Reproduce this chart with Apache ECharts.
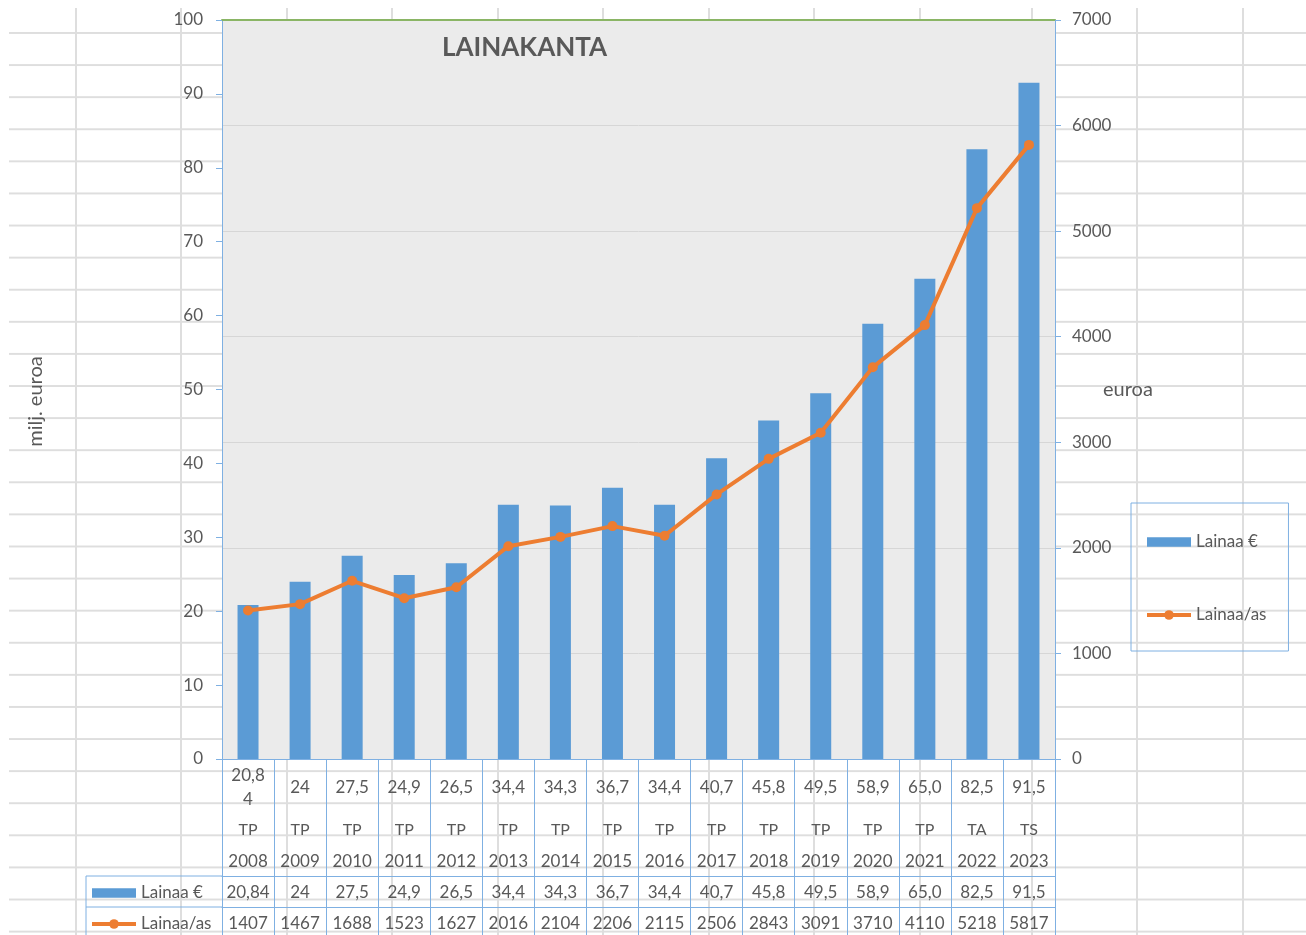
<!DOCTYPE html>
<html>
<head>
<meta charset="utf-8">
<title>Lainakanta</title>
<script src="https://cdn.jsdelivr.net/npm/echarts@6/dist/echarts.min.js"></script>
<style>
    html, body { margin: 0; padding: 0; background: #fff; }
    /* taulukkolaskentaohjelman ruudukko taustalla */
    #sheet {
        position: absolute; left: 9px; top: 8px; width: 1297px; height: 927px;
        background-image: linear-gradient(to bottom, #dedede 0, #dedede 2px, transparent 2px);
        background-size: 100% 32.1px;
        background-position: 0 24px;
    }
    .col { position: absolute; top: 8px; width: 2px; height: 927px; background: #dedede; }
    #chart { position: absolute; left: 0; top: 0; width: 1306px; height: 935px; }
</style>
</head>
<body>
<div id="sheet"></div>
<div id="chart"></div>
<script>
    // vuodet, tilinpäätös/talousarvio/suunnitelma ja arvot
    const years = ['2008', '2009', '2010', '2011', '2012', '2013', '2014', '2015',
        '2016', '2017', '2018', '2019', '2020', '2021', '2022', '2023']
    const phases = ['TP', 'TP', 'TP', 'TP', 'TP', 'TP', 'TP', 'TP',
        'TP', 'TP', 'TP', 'TP', 'TP', 'TP', 'TA', 'TS']
    const lainaa = [20.84, 24, 27.5, 24.9, 26.5, 34.4, 34.3, 36.7,
        34.4, 40.7, 45.8, 49.5, 58.9, 65.0, 82.5, 91.5]
    const lainaaLabels = ['20,84', '24', '27,5', '24,9', '26,5', '34,4', '34,3', '36,7',
        '34,4', '40,7', '45,8', '49,5', '58,9', '65,0', '82,5', '91,5']
    const lainaaPerAs = [1407, 1467, 1688, 1523, 1627, 2016, 2104, 2206,
        2115, 2506, 2843, 3091, 3710, 4110, 5218, 5817]

    const leftAxis = { min: 0, max: 100, interval: 10 }
    const rightAxis = { min: 0, max: 7000, interval: 1000 }

    // ruudukon sarakeviivat
    const colX = [76, 181, 287, 392, 498, 603, 709, 814, 920, 1032, 1137, 1243]
    colX.forEach(x => {
        let d = document.createElement('div')
        d.className = 'col'
        d.style.left = (x - 1) + 'px'
        document.body.insertBefore(d, document.getElementById('chart'))
    })

    const font = 'Lato'
    const textColor = '#595959'
    const blueLine = '#7fb0e2'
    const fs = 17
    // pylvään selitekuvake 42x9 laatikossa
    const barIcon = 'path://M0,0H42V9H0Z'

    // kaavion mitat
    const gLeft = 222, gRight = 1055, gTop = 20, gBottom = 759, H = 935
    const row1 = 876, row2 = 907

    function catLabel(v, i) {
        let s = lainaaLabels[i]
        let first = s.length > 4
            ? '{a1|' + s.slice(0, 4) + '}\n{a2|' + s.slice(4) + '}'
            : '{a|' + s + '}'
        return first + '\n{b|' + phases[i] + '}\n{c|' + years[i] + '}'
    }

    let myChart = echarts.init(document.getElementById('chart'))

    let legendData = [{ name: 'Lainaa €', icon: barIcon }, { name: 'Lainaa/as' }]

    let option = {
        animation: false,
        textStyle: { fontFamily: font, color: textColor },
        title: {
            text: 'LAINAKANTA',
            left: 437,
            top: 30,
            textStyle: { fontFamily: font, fontSize: 26, fontWeight: 'bold', color: textColor }
        },
        legend: [{
            data: legendData,
            orient: 'vertical',
            left: 1131,
            top: 503,
            padding: [29, 22, 26, 14],
            itemGap: 53,
            itemWidth: 44,
            itemHeight: 12,
            borderColor: blueLine,
            borderWidth: 1,
            selectedMode: false,
            lineStyle: { width: 4 },
            textStyle: { fontFamily: font, fontSize: fs, color: textColor, lineHeight: 20 }
        }, {
            data: legendData,
            orient: 'vertical',
            left: 90,
            top: 883,
            padding: 0,
            itemGap: 11,
            itemWidth: 44,
            itemHeight: 12,
            selectedMode: false,
            lineStyle: { width: 4 },
            textStyle: { fontFamily: font, fontSize: fs, color: textColor, lineHeight: 20 }
        }],
        grid: {
            left: gLeft,
            right: 1306 - gRight,
            top: gTop,
            bottom: H - gBottom,
            show: true,
            backgroundColor: '#ebebeb',
            borderWidth: 0
        },
        xAxis: [{
            type: 'category',
            data: years,
            position: 'bottom',
            axisLine: { onZero: false, lineStyle: { color: blueLine } },
            axisTick: { show: true, interval: 0, length: H - gBottom, lineStyle: { color: blueLine } },
            axisLabel: {
                interval: 0,
                margin: 5,
                formatter: catLabel,
                color: textColor,
                fontFamily: font,
                fontSize: fs,
                rich: {
                    a: { lineHeight: 48, fontSize: fs, fontFamily: font, color: textColor },
                    a1: { lineHeight: 24, fontSize: fs, fontFamily: font, color: textColor },
                    a2: { lineHeight: 24, fontSize: fs, fontFamily: font, color: textColor },
                    b: { lineHeight: 36, fontSize: 16, fontFamily: font, color: textColor },
                    c: { lineHeight: 28, fontSize: fs, fontFamily: font, color: textColor }
                }
            }
        }, {
            type: 'category',
            data: years,
            position: 'bottom',
            offset: row1 - gBottom,
            axisLine: { onZero: false, lineStyle: { color: blueLine } },
            axisTick: { show: false },
            axisLabel: {
                interval: 0, margin: 8, lineHeight: 18,
                color: textColor, fontFamily: font, fontSize: fs,
                formatter: (v, i) => lainaaLabels[i]
            }
        }, {
            type: 'category',
            data: years,
            position: 'bottom',
            offset: row2 - gBottom,
            axisLine: { onZero: false, lineStyle: { color: blueLine } },
            axisTick: { show: false },
            axisLabel: {
                interval: 0, margin: 8, lineHeight: 18,
                color: textColor, fontFamily: font, fontSize: fs,
                formatter: (v, i) => String(lainaaPerAs[i])
            }
        }, {
            type: 'category',
            data: years,
            position: 'top',
            axisLine: { onZero: false, lineStyle: { color: '#8ab565', width: 2 } },
            axisTick: { show: false },
            axisLabel: { show: false }
        }],
        yAxis: [{
            type: 'value',
            min: leftAxis.min,
            max: leftAxis.max,
            interval: leftAxis.interval,
            position: 'left',
            name: 'milj. euroa',
            nameLocation: 'middle',
            nameRotate: 90,
            nameGap: 176,
            nameMoveOverlap: false,
            nameTextStyle: { fontFamily: font, fontSize: 20, color: textColor, padding: [0, 24, 0, 0] },
            axisLine: { show: true, lineStyle: { color: blueLine } },
            axisTick: { show: true, length: 6, lineStyle: { color: blueLine } },
            axisLabel: { margin: 19, color: textColor, fontFamily: font, fontSize: fs },
            splitLine: { show: false }
        }, {
            type: 'value',
            min: rightAxis.min,
            max: rightAxis.max,
            interval: rightAxis.interval,
            position: 'right',
            name: 'euroa',
            nameLocation: 'middle',
            nameRotate: 0,
            nameGap: 48,
            nameMoveOverlap: false,
            nameTextStyle: { fontFamily: font, fontSize: 20, color: textColor, padding: [0, 0, 7, 0] },
            axisLine: { show: true, lineStyle: { color: blueLine } },
            axisTick: { show: true, length: 6, lineStyle: { color: blueLine } },
            axisLabel: {
                margin: 17, color: textColor, fontFamily: font, fontSize: fs,
                formatter: v => String(v)
            },
            splitLine: { show: true, lineStyle: { color: '#d6d6d6' } }
        }],
        graphic: [
            // taulukon selitesarakkeen reunat
            { type: 'line', shape: { x1: 86, y1: row1, x2: gLeft, y2: row1 }, style: { stroke: blueLine, lineWidth: 1 } },
            { type: 'line', shape: { x1: 86, y1: row2, x2: gLeft, y2: row2 }, style: { stroke: blueLine, lineWidth: 1 } },
            { type: 'line', shape: { x1: 86, y1: row1, x2: 86, y2: H }, style: { stroke: blueLine, lineWidth: 1 } }
        ],
        series: [{
            name: 'Lainaa €',
            type: 'bar',
            data: lainaa,
            barWidth: 21,
            itemStyle: { color: '#5b9bd5' }
        }, {
            name: 'Lainaa/as',
            type: 'line',
            yAxisIndex: 1,
            data: lainaaPerAs,
            symbol: 'circle',
            symbolSize: 10,
            z: 5,
            itemStyle: { color: '#ed7d31' },
            lineStyle: { color: '#ed7d31', width: 4 }
        }]
    }

    myChart.setOption(option)
</script>
</body>
</html>
